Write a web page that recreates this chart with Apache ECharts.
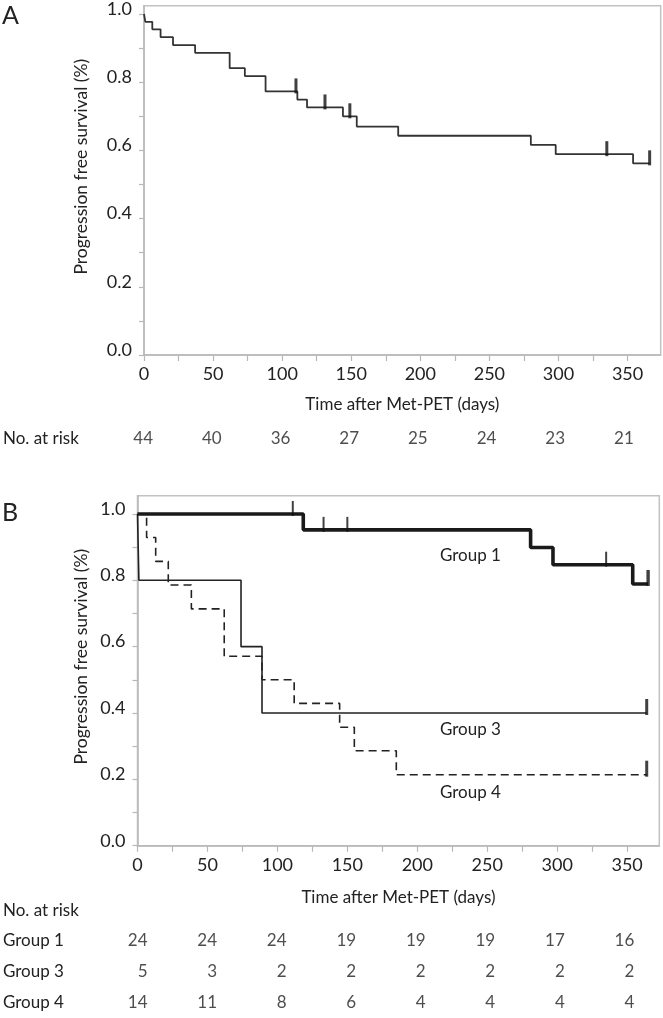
<!DOCTYPE html>
<html>
<head>
<meta charset="utf-8">
<script src="https://cdn.jsdelivr.net/npm/echarts@6.0.0/dist/echarts.min.js"></script>
<style>
  html, body { margin: 0; padding: 0; background: #fff; }
  #chart { width: 663px; height: 1018px; }
</style>
</head>
<body>
<div id="chart"></div>
<script>
// ---------- data ----------
// Panel A: all patients (Kaplan-Meier step points)
const aTimes = [0, 1, 6, 12, 21, 37, 62, 73, 88, 111, 118, 144, 154, 184, 280, 298, 354, 366];
const aSurv  = [1.0, 0.977, 0.955, 0.932, 0.909, 0.886, 0.841, 0.818, 0.773, 0.749, 0.726, 0.700, 0.670, 0.643, 0.616, 0.589, 0.562, 0.562];
const aCensorTimes = [110, 131, 149, 335, 366];
const aCensorSurv  = [0.773, 0.726, 0.700, 0.589, 0.562];

// Panel B: groups
const g1Times = [0, 118.5, 281, 297, 354, 365];
const g1Surv  = [1.0, 0.952, 0.899, 0.847, 0.789, 0.789];
const g1CensorTimes = [111, 133, 150, 335];
const g1CensorSurv  = [1.0, 0.952, 0.952, 0.847];
const g1EndCensor = [365, 0.789];

const g3Times = [0, 1, 74, 89, 364];
const g3Surv  = [1.0, 0.8, 0.6, 0.4, 0.4];
const g3EndCensor = [364, 0.4];

const g4Times = [0, 6.5, 13, 22, 38.5, 62, 89, 112, 144.5, 155, 185, 364];
const g4Surv  = [1.0, 0.929, 0.857, 0.786, 0.714, 0.571, 0.5, 0.429, 0.357, 0.286, 0.214, 0.214];
const g4EndCensor = [364, 0.214];

// Number at risk
const riskDays = [0, 50, 100, 150, 200, 250, 300, 350];
const riskAll = [44, 40, 36, 27, 25, 24, 23, 21];
const riskG1 = [24, 24, 24, 19, 19, 19, 17, 16];
const riskG3 = [5, 3, 2, 2, 2, 2, 2, 2];
const riskG4 = [14, 11, 8, 6, 4, 4, 4, 4];
const riskRowsA = ['No. at risk'];
const riskRowsB = ['No. at risk', 'Group 1', 'Group 3', 'Group 4'];

// Tick labels
const xTickValues = [0, 25, 50, 75, 100, 125, 150, 175, 200, 225, 250, 275, 300, 325, 350];
const xLabelValues = [0, 50, 100, 150, 200, 250, 300, 350];
const yTickValues = [0, 0.1, 0.2, 0.3, 0.4, 0.5, 0.6, 0.7, 0.8, 0.9, 1.0];
const yLabelValues = [0, 0.2, 0.4, 0.6, 0.8, 1.0];

const xTitle = 'Time after Met-PET (days)';
const yTitle = 'Progression free survival (%)';
const groupNames = ['Group 1', 'Group 3', 'Group 4'];

// ---------- helpers ----------
const FONT = 'Lato, "Noto Sans", sans-serif';
const TXT = '#222';
const AX = '#b8b8b8';
const zip = (a, b) => a.map((v, i) => [v, b[i]]);

function plotXAxis(gi, max, gap) {
  return {
    gridIndex: gi, type: 'value', min: 0, max: max,
    name: xTitle, nameLocation: 'middle', nameGap: gap,
    nameTextStyle: { fontFamily: FONT, fontSize: 17, color: TXT },
    axisLine: { show: true, lineStyle: { color: AX, width: 1.5 } },
    axisTick: { show: true, length: 6, lineStyle: { color: AX, width: 1.2 }, customValues: xTickValues },
    axisLabel: { show: true, customValues: xLabelValues, margin: 10, fontFamily: FONT, fontSize: 18, color: TXT },
    splitLine: { show: false }
  };
}
function plotYAxis(gi, max) {
  return {
    gridIndex: gi, type: 'value', min: 0, max: max,
    axisLine: { show: true, lineStyle: { color: AX, width: 1.5 } },
    axisTick: { show: true, length: 5, lineStyle: { color: AX, width: 1.2 }, customValues: yTickValues },
    axisLabel: { show: true, customValues: yLabelValues, margin: 12, fontFamily: FONT, fontSize: 18, color: TXT,
                 verticalAlign: 'bottom', lineHeight: 10, formatter: v => v.toFixed(1) },
    splitLine: { show: false }
  };
}
function riskXAxis(gi, max) {
  return { gridIndex: gi, type: 'value', min: 0, max: max, show: false };
}
function riskYAxis(gi, rows, margin) {
  return {
    gridIndex: gi, type: 'category', data: rows, inverse: true,
    axisLine: { show: false }, axisTick: { show: false }, splitLine: { show: false },
    axisLabel: { show: true, align: 'left', margin: margin, fontFamily: FONT, fontSize: 17, color: TXT }
  };
}
function riskSeries(gi, row, values, dx) {
  return {
    type: 'scatter', xAxisIndex: gi, yAxisIndex: gi, symbolSize: 0, silent: true,
    data: riskDays.map((d, i) => [d, row, values[i]]),
    label: { show: true, position: 'left', distance: 0, offset: [dx, 0], align: 'right', verticalAlign: 'middle',
             formatter: p => String(p.value[2]), fontFamily: FONT, fontSize: 17, color: TXT }
  };
}
function censorSeries(axisIdx, pts, w, h, color) {
  return {
    type: 'scatter', xAxisIndex: axisIdx, yAxisIndex: axisIdx, data: pts, silent: true,
    symbol: 'rect', symbolSize: [w, h], symbolOffset: [0, -h / 2 + 2],
    itemStyle: { color: color }, z: 5
  };
}

const chart = echarts.init(document.getElementById('chart'), null, { renderer: 'canvas' });

const option = {
  animation: false,
  backgroundColor: '#fff',
  grid: [
    { left: 144, top: 5.7, width: 516.7, height: 349.3, show: true, borderColor: '#c2c2c2', borderWidth: 1.5 },
    { left: 144, top: 422.3, width: 516.7, height: 32, show: false },
    { left: 137.5, top: 495.7, width: 521.8, height: 350, show: true, borderColor: '#c2c2c2', borderWidth: 1.5 },
    { left: 137.5, top: 894.7, width: 521.8, height: 128, show: false }
  ],
  xAxis: [plotXAxis(0, 374, 41), riskXAxis(1, 374), plotXAxis(2, 373, 43), riskXAxis(3, 373)],
  yAxis: [plotYAxis(0, 1.0243), riskYAxis(1, riskRowsA, 144), plotYAxis(2, 1.055), riskYAxis(3, riskRowsB, 137.5)],
  graphic: [
    { type: 'text', x: 2, y: 3, style: { text: 'A', fontFamily: FONT, fontSize: 25, fill: TXT } },
    { type: 'text', x: 2, y: 500, style: { text: 'B', fontFamily: FONT, fontSize: 25, fill: TXT } },
    { type: 'text', x: 81.5, y: 166.7, rotation: Math.PI / 2,
      style: { text: yTitle, fontFamily: FONT, fontSize: 17.5, fill: TXT, align: 'center', verticalAlign: 'middle' } },
    { type: 'text', x: 81.5, y: 656.7, rotation: Math.PI / 2,
      style: { text: yTitle, fontFamily: FONT, fontSize: 17.5, fill: TXT, align: 'center', verticalAlign: 'middle' } }
  ],
  series: [
    // Panel A
    { type: 'line', xAxisIndex: 0, yAxisIndex: 0, step: 'end', symbol: 'none', silent: true,
      data: zip(aTimes, aSurv), lineStyle: { color: '#333', width: 1.8 } },
    censorSeries(0, zip(aCensorTimes, aCensorSurv), 3, 15, '#111'),
    riskSeries(1, 'No. at risk', riskAll, 6),

    // Panel B
    { type: 'line', xAxisIndex: 2, yAxisIndex: 2, step: 'end', symbol: 'none', silent: true, z: 4,
      data: zip(g1Times, g1Surv), lineStyle: { color: '#1a1a1a', width: 3.6 },
      markPoint: { symbol: 'circle', symbolSize: 0, silent: true,
        label: { show: true, formatter: groupNames[0], fontFamily: FONT, fontSize: 17, color: TXT },
        data: [{ coord: [238, 0.876] }] } },
    censorSeries(2, zip(g1CensorTimes, g1CensorSurv), 2, 15, '#111'),
    censorSeries(2, [g1EndCensor], 3.4, 16, '#111'),
    { type: 'line', xAxisIndex: 2, yAxisIndex: 2, step: 'end', symbol: 'none', silent: true,
      data: zip(g3Times, g3Surv), lineStyle: { color: '#222', width: 1.6 },
      markPoint: { symbol: 'circle', symbolSize: 0, silent: true,
        label: { show: true, formatter: groupNames[1], fontFamily: FONT, fontSize: 17, color: TXT },
        data: [{ coord: [238, 0.349] }] } },
    censorSeries(2, [g3EndCensor], 3, 16, '#111'),
    { type: 'line', xAxisIndex: 2, yAxisIndex: 2, step: 'end', symbol: 'none', silent: true,
      data: zip(g4Times, g4Surv), lineStyle: { color: '#222', width: 1.6, type: [8, 5] },
      markPoint: { symbol: 'circle', symbolSize: 0, silent: true,
        label: { show: true, formatter: groupNames[2], fontFamily: FONT, fontSize: 17, color: TXT },
        data: [{ coord: [238, 0.159] }] } },
    censorSeries(2, [g4EndCensor], 3, 16, '#111'),
    riskSeries(3, 'Group 1', riskG1, 7),
    riskSeries(3, 'Group 3', riskG3, 7),
    riskSeries(3, 'Group 4', riskG4, 7)
  ]
};
chart.setOption(option);
</script>
</body>
</html>
